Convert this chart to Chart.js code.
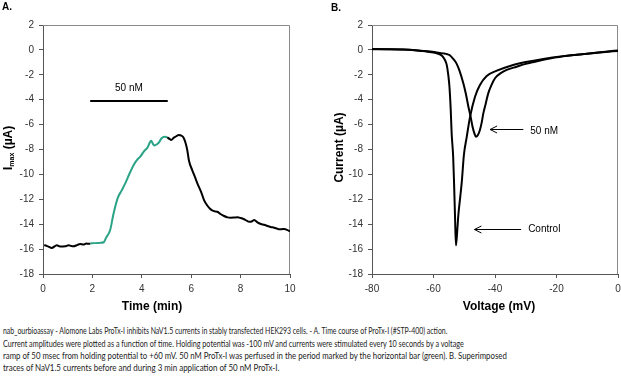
<!DOCTYPE html>
<html><head><meta charset="utf-8">
<script src="https://cdn.jsdelivr.net/npm/chart.js@4.4.1/dist/chart.umd.min.js"></script>
<style>
html,body{margin:0;padding:0;width:621px;height:376px;overflow:hidden;background:#fff;}
#ca{position:absolute;left:0;top:0;}
#cb{position:absolute;left:310px;top:0;}
.pl{position:absolute;font:bold 10px 'Liberation Sans',Arial,sans-serif;color:#000;}
.cap{position:absolute;left:3px;width:3000px;height:12px;font-family:Lato,'Open Sans',sans-serif;font-size:9.6px;color:#222;white-space:nowrap;line-height:12px;}
.cap span{display:inline-block;transform-origin:0 50%;}
</style></head><body>
<canvas id="ca" width="310" height="318"></canvas>
<canvas id="cb" width="320" height="318"></canvas>
<div class="pl" style="left:2px;top:1px;">A.</div>
<div class="pl" style="left:331px;top:2px;">B.</div>
<div class="cap" style="top:325px"><span data-w="444.4">nab_ourbioassay - Alomone Labs ProTx-I inhibits NaV1.5 currents in stably transfected HEK293 cells. - A. Time course of ProTx-I (#STP-400) action.</span></div>
<div class="cap" style="top:337.5px"><span data-w="461">Current amplitudes were plotted as a function of time. Holding potential was -100 mV and currents were stimulated every 10 seconds by a voltage</span></div>
<div class="cap" style="top:350px"><span data-w="504">ramp of 50 msec from holding potential to +60 mV. 50 nM ProTx-I was perfused in the period marked by the horizontal bar (green). B. Superimposed</span></div>
<div class="cap" style="top:362.3px"><span data-w="276.7">traces of NaV1.5 currents before and during 3 min application of 50 nM ProTx-I.</span></div>
<script>
// ---------- Panel A: time course ----------
const timeA_pre   = [0.05,0.22,0.35,0.56,0.69,0.9,1.03,1.23,1.4,1.5,1.64,1.75,1.84,1.91];
const imaxA_pre   = [-15.67,-15.8,-15.91,-15.7,-15.8,-15.78,-15.7,-15.78,-15.66,-15.59,-15.64,-15.56,-15.58,-15.56];
const timeA_toxin = [1.91,2.1,2.3,2.46,2.55,2.72,2.85,3.02,3.18,3.33,3.5,3.67,3.8,3.94,4.08,4.25,4.32,4.38,4.45,4.51,4.6,4.69,4.8,4.92,5.03];
const imaxA_toxin = [-15.55,-15.52,-15.5,-15.45,-15.1,-14.47,-13.2,-11.92,-11.3,-10.72,-9.95,-9.24,-8.85,-8.57,-8.17,-7.77,-7.45,-7.29,-7.55,-7.67,-7.6,-7.45,-7.1,-6.97,-7.02];
const timeA_post  = [5.03,5.12,5.19,5.3,5.42,5.5,5.6,5.68,5.76,5.84,5.91,6.04,6.15,6.25,6.4,6.52,6.65,6.79,6.92,7.06,7.2,7.33,7.47,7.6,7.73,7.87,8.0,8.14,8.25,8.35,8.45,8.55,8.68,8.82,8.95,9.09,9.22,9.36,9.47,9.57,9.67,9.77,9.88,10.0];
const imaxA_post  = [-7.02,-7.15,-7.24,-7.05,-6.9,-6.84,-6.88,-7.02,-7.4,-8.04,-8.9,-9.65,-10.2,-10.72,-11.4,-12.06,-12.5,-12.81,-12.95,-13.0,-13.2,-13.34,-13.45,-13.48,-13.47,-13.45,-13.5,-13.6,-13.72,-13.8,-13.78,-13.66,-13.85,-13.98,-14.05,-14.14,-14.22,-14.28,-14.35,-14.41,-14.4,-14.38,-14.45,-14.57];
const barA_time   = [1.91, 5.05];
const barA_level  = [-4.1, -4.1];
const barA_label  = '50 nM';

// ---------- Panel B: I-V traces ----------
const voltB_control = [-80,-75,-70,-67,-64,-62,-60,-58.5,-57.5,-56.8,-56.2,-55.7,-55.2,-54.8,-54.4,-54.1,-53.6,-53.3,-53.0,-52.7,-52.3,-51.9,-51.3,-50.8,-50.1,-49.2,-48.1,-46.5,-44.9,-42.7,-39.4,-35.1,-30,-24.3,-18,-13.4,-8,-4,0];
const currB_control = [0.07,0.06,0.04,0.0,-0.08,-0.14,-0.22,-0.32,-0.42,-0.6,-0.85,-1.2,-2.0,-3.0,-4.8,-6.7,-8.6,-10.8,-13.4,-15.7,-14.6,-13.2,-11.8,-10.6,-8.4,-7.0,-5.36,-3.76,-2.82,-2.1,-1.67,-1.29,-0.98,-0.72,-0.5,-0.38,-0.25,-0.14,-0.04];
const voltB_toxin = [-80,-75,-70,-65,-62,-59,-56.8,-55.5,-54.6,-53.5,-52.5,-51.5,-50.3,-49.5,-48.7,-47.9,-47.3,-46.7,-46.2,-45.6,-44.9,-44.3,-43.8,-43.0,-42.2,-41.2,-40,-38,-36.2,-33,-30,-25,-20,-15,-10,-5,0];
const currB_toxin = [0.05,0.06,0.03,-0.04,-0.1,-0.2,-0.28,-0.35,-0.45,-0.75,-1.1,-1.7,-2.68,-3.5,-4.5,-5.4,-6.17,-6.7,-6.97,-6.85,-6.43,-5.8,-5.1,-4.3,-3.49,-2.85,-2.28,-1.85,-1.61,-1.35,-1.12,-0.84,-0.6,-0.43,-0.3,-0.18,-0.08];
const arrowLabelsB = ['50 nM', 'Control'];
const arrowTipV  = [-41.6, -46.7];
const arrowTailV = [-30.8, -31.5];
const arrowLevel = [-6.35, -14.36];

// ---------- axis ranges / ticks ----------
const axisA_x = {min:0, max:10, step:2};
const axisB_x = {min:-80, max:0, step:20};
const axisY   = {min:-18, max:2, step:2};

const NARROW = "'Liberation Sans Narrow','Arial Narrow','Liberation Sans',sans-serif";
const BOLD = "'Liberation Sans',Arial,sans-serif";
const AX = '#555';
const TICK = '#333';

const pts = (xs, ys) => xs.map((x,i)=>({x, y: ys[i]}));

function scale(rng, fit){
  return {
    type:'linear', min:rng.min, max:rng.max,
    ticks:{stepSize:rng.step, font:{family:NARROW,size:10}, color:TICK, padding:5, maxRotation:0},
    grid:{drawOnChartArea:false, drawTicks:true, tickLength:4, color:AX, lineWidth:1},
    border:{display:true, color:AX, width:1},
    afterFit: fit
  };
}

const framePlugin = {
  id:'frame',
  beforeDatasetsDraw(chart){
    const {ctx, chartArea:{left,right,top,bottom}} = chart;
    ctx.save(); ctx.strokeStyle='#8a8a8a'; ctx.lineWidth=1;
    ctx.beginPath();
    ctx.moveTo(left, Math.round(top)+0.5);
    ctx.lineTo(Math.round(right)-0.5, Math.round(top)+0.5);
    ctx.lineTo(Math.round(right)-0.5, bottom);
    ctx.stroke(); ctx.restore();
  }
};

function rotatedParts(ctx, cx, cy, parts){
  ctx.save(); ctx.translate(cx, cy); ctx.rotate(-Math.PI/2);
  let total = 0;
  parts.forEach(p=>{ctx.font=p.font; p.w=ctx.measureText(p.text).width; total+=p.w;});
  let x = -total/2;
  ctx.textBaseline='middle'; ctx.textAlign='left'; ctx.fillStyle='#000';
  parts.forEach(p=>{ctx.font=p.font; ctx.fillText(p.text, x, p.dy||0); x+=p.w;});
  ctx.restore();
}

const annotA = {
  id:'annotA',
  afterDraw(chart){
    const {ctx, scales:{x,y}} = chart;
    ctx.save();
    ctx.fillStyle='#000'; ctx.font='10px '+NARROW; ctx.textAlign='center'; ctx.textBaseline='middle';
    ctx.fillText(barA_label, x.getPixelForValue((barA_time[0]+barA_time[1])/2), y.getPixelForValue(barA_level[0]+1.0));
    ctx.font='bold 12px '+BOLD;
    ctx.fillText('Time (min)', 152, 307);
    ctx.restore();
    rotatedParts(ctx, 8.5, 148, [
      {text:'I', font:'bold 13px '+BOLD},
      {text:'max', font:'bold 7px '+BOLD, dy:4},
      {text:' (\u00B5A)', font:'bold 12px '+BOLD}
    ]);
  }
};

const annotB = {
  id:'annotB',
  afterDraw(chart){
    const {ctx, scales:{x,y}} = chart;
    ctx.save();
    ctx.strokeStyle='#000'; ctx.lineWidth=1; ctx.fillStyle='#000';
    arrowLabelsB.forEach((lab,i)=>{
      const py = Math.round(y.getPixelForValue(arrowLevel[i]))+0.5;
      const tx = x.getPixelForValue(arrowTipV[i]);
      const ex = x.getPixelForValue(arrowTailV[i]);
      ctx.beginPath();
      ctx.moveTo(tx, py); ctx.lineTo(ex, py);
      ctx.moveTo(tx+7, py-3.5); ctx.lineTo(tx, py); ctx.lineTo(tx+7, py+3.5);
      ctx.stroke();
      ctx.font='10px '+NARROW; ctx.textAlign='left'; ctx.textBaseline='middle';
      ctx.fillText(lab, ex+7, py+(i===0?2:0));
    });
    ctx.font='bold 12px '+BOLD; ctx.textAlign='center'; ctx.textBaseline='middle';
    ctx.fillText('Voltage (mV)', 189, 307);
    ctx.restore();
    rotatedParts(ctx, 30, 147.5, [{text:'Current (\u00B5A)', font:'bold 12px '+BOLD}]);
  }
};

const lineDS = (data, color) => ({data, borderColor:color, borderWidth:2, pointRadius:0, fill:false, cubicInterpolationMode:'monotone'});

const common = {
  responsive:false, animation:false, events:[],
  plugins:{legend:{display:false}, tooltip:{enabled:false}, title:{display:false}},
};

new Chart(document.getElementById('ca'), {
  type:'line',
  data:{datasets:[
    lineDS(pts(timeA_pre, imaxA_pre), '#000'),
    lineDS(pts(timeA_toxin, imaxA_toxin), '#2aa386'),
    lineDS(pts(timeA_post, imaxA_post), '#000'),
    {data:pts(barA_time, barA_level), borderColor:'#000', borderWidth:2, pointRadius:0, fill:false}
  ]},
  options:Object.assign({}, common, {
    layout:{padding:{top:25, right:20, left:0, bottom:0}},
    scales:{
      x:scale(axisA_x, s=>{s.height=44;}),
      y:scale(axisY, s=>{s.width=43;})
    }
  }),
  plugins:[framePlugin, annotA]
});

new Chart(document.getElementById('cb'), {
  type:'line',
  data:{datasets:[
    lineDS(pts(voltB_control, currB_control), '#000'),
    lineDS(pts(voltB_toxin, currB_toxin), '#000')
  ]},
  options:Object.assign({}, common, {
    layout:{padding:{top:25, right:12, left:0, bottom:0}},
    scales:{
      x:scale(axisB_x, s=>{s.height=44;}),
      y:scale(axisY, s=>{s.width=62;})
    }
  }),
  plugins:[framePlugin, annotB]
});

document.querySelectorAll('.cap span').forEach(el=>{
  const w = el.offsetWidth;
  const target = parseFloat(el.dataset.w);
  if (w>0) el.style.transform = 'scaleX('+(target/w).toFixed(4)+')';
});
</script>
</body></html>
